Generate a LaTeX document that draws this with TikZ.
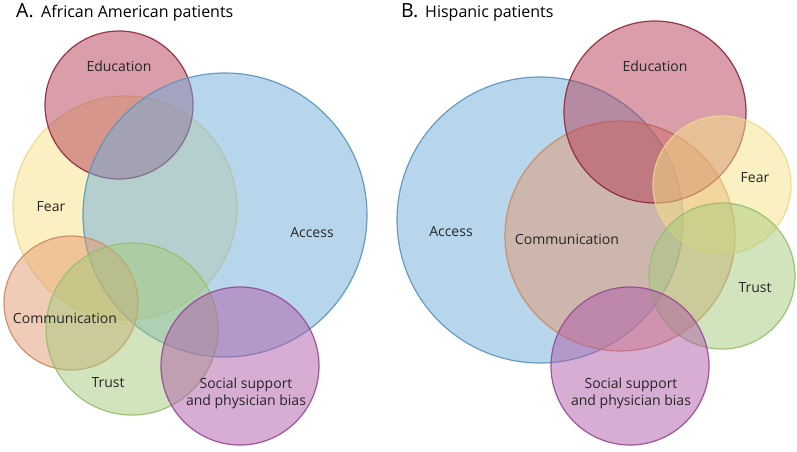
\documentclass[tikz,border=0pt]{standalone}
\usepackage{fontspec}
\setmainfont{Open Sans}
\usepackage{xcolor}
\usetikzlibrary{positioning}

\definecolor{eduFill}{RGB}{181,62,88}
\definecolor{eduLine}{RGB}{140,38,55}
\definecolor{fearFill}{RGB}{246,226,132}
\definecolor{fearLine}{RGB}{232,216,140}
\definecolor{accFill}{RGB}{112,174,216}
\definecolor{accLine}{RGB}{88,148,190}
\definecolor{comFill}{RGB}{226,152,112}
\definecolor{comLine}{RGB}{204,138,98}
\definecolor{trustFill}{RGB}{166,202,124}
\definecolor{trustLine}{RGB}{148,190,108}
\definecolor{socFill}{RGB}{176,92,168}
\definecolor{socLine}{RGB}{150,70,150}

\begin{document}
\begin{tikzpicture}[x=1pt, y=-1pt,
    venn/.style={circle, draw, line width=1.2pt, fill opacity=0.5, draw opacity=0.9, inner sep=0pt},
    lbl/.style={font=\fontsize{14}{17}\selectfont, align=center, text=black!85, inner sep=0pt},
    ttl/.style={anchor=base west, inner sep=0pt, font=\fontsize{16}{19}\selectfont},
    tag/.style={anchor=base west, inner sep=0pt, font=\fontsize{19.5}{22}\selectfont}]
  \useasboundingbox (0,0) rectangle (797,451);

  \node[tag] (tagA) at (16,17.5) {A.};
  \node[ttl] (ttlA) at (41,17.5) {African American patients};
  \node[venn, fill=fearFill, draw=fearLine, minimum size=224pt] (fearA) at (125,208) {};
  \node[venn, fill=eduFill, draw=eduLine, minimum size=148pt] (eduA) at (119,105) {};
  \node[venn, fill=accFill, draw=accLine, minimum size=284pt] (accA) at (225,215) {};
  \node[venn, fill=comFill, draw=comLine, minimum size=134pt] (comA) at (71,303) {};
  \node[venn, fill=trustFill, draw=trustLine, minimum size=172pt] (trustA) at (132,329) {};
  \node[venn, fill=socFill, draw=socLine, minimum size=158pt] (socA) at (240,366) {};
  \node[lbl] at (eduA.center |- 0,66) {Education};
  \node[lbl] at (51,207) {Fear};
  \node[lbl] at (312,233) {Access};
  \node[lbl] at (65,318) {Communication};
  \node[lbl] at (108,383) {Trust};
  \node[lbl] at (246,393) {Social support\\and physician bias};

  \node[tag] (tagB) at (401,17.5) {B.};
  \node[ttl] (ttlB) at (425,17.5) {Hispanic patients};
  \node[venn, fill=accFill, draw=accLine, minimum size=286pt] (accB) at (540,220) {};
  \node[venn, fill=comFill, draw=comLine, minimum size=230pt] (comB) at (620,236) {};
  \node[venn, fill=eduFill, draw=eduLine, minimum size=182pt] (eduB) at (655,112) {};
  \node[venn, fill=fearFill, draw=fearLine, minimum size=138pt] (fearB) at (722,185) {};
  \node[venn, fill=trustFill, draw=trustLine, minimum size=146pt] (trustB) at (722,276) {};
  \node[venn, fill=socFill, draw=socLine, minimum size=158pt] (socB) at (630,366) {};
  \node[lbl] at (655,66) {Education};
  \node[lbl] at (755,178) {Fear};
  \node[lbl] at (451,232) {Access};
  \node[lbl] at (567,239) {Communication};
  \node[lbl] at (755,288) {Trust};
  \node[lbl] at (631,393) {Social support\\and physician bias};
\end{tikzpicture}
\end{document}
